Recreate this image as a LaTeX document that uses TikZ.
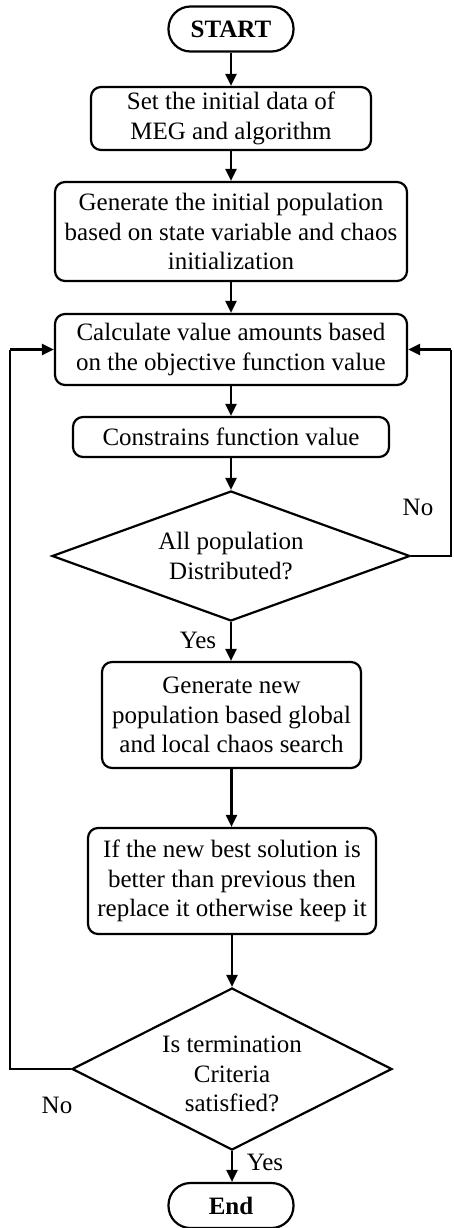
\documentclass[tikz,border=0pt]{standalone}
\usepackage{fontspec}
\setmainfont{Liberation Serif}
\usetikzlibrary{shapes.geometric,arrows.meta}
\begin{document}
\begin{tikzpicture}[x=1pt,y=-1pt,
  every node/.style={font=\fontsize{25}{29.5}\selectfont},
  proc/.style={draw,line width=2.2pt,rounded corners=10pt,align=center,inner sep=0pt},
  term/.style={draw,line width=2.2pt,rounded corners=22pt,align=center,inner sep=0pt,minimum width=125pt,minimum height=45pt,font=\fontsize{25}{29.5}\selectfont\bfseries},
  dec/.style={draw,line width=2.2pt,diamond,align=center,inner sep=0pt},
  arr/.style={line width=2.2pt,-{Triangle[length=12pt,width=11pt]}},
  lab/.style={font=\fontsize{25}{29.5}\selectfont}]
\useasboundingbox (0,0) rectangle (453,1228);
\node[term] (start) at (231,29) {START};
\node[proc,minimum width=280pt,minimum height=63pt] (b1) at (231,118.5) {Set the initial data of\\MEG and algorithm};
\node[proc,minimum width=352pt,minimum height=99pt] (b2) at (231,231.5) {Generate the initial population\\based on state variable and chaos\\initialization};
\node[proc,minimum width=352pt,minimum height=71pt] (b3) at (231,349.5) {Calculate value amounts based\\on the objective function value};
\node[proc,minimum width=316pt,minimum height=40pt] (b4) at (231,437) {Constrains function value};
\node[dec,aspect=2.754,minimum width=358pt,minimum height=130pt] (d1) at (231,556) {All population\\Distributed?};
\node[proc,minimum width=259pt,minimum height=106pt] (b5) at (231.5,715) {Generate new\\population based global\\and local chaos search};
\node[proc,minimum width=288pt,minimum height=106pt] (b6) at (232,881) {If the new best solution is\\better than previous then\\replace it otherwise keep it};
\node[dec,aspect=1.975,minimum width=320pt,minimum height=162pt] (d2) at (232,1069) {};
\node[align=center,inner sep=0pt] (d2t) at (232,1074) {Is termination\\Criteria\\satisfied?};
\node[term] (end) at (231,1205.5) {End};
\coordinate (r1) at (451,556);
\coordinate (r2) at (451,349.5);
\coordinate (l1) at (10,1069);
\coordinate (l2) at (10,349.5);
\draw[arr] (start) -- (b1);
\draw[arr] (b1) -- (b2);
\draw[arr] (b2) -- (b3);
\draw[arr] (b3) -- (b4);
\draw[arr] (b4) -- (d1);
\draw[arr] (d1) -- (d1 |- b5.north);
\draw[arr] (b5.south) -- (b5.south |- b6.north);
\draw[arr] (b6.south) -- (b6.south |- d2.north);
\draw[arr] (d2.south) -- (d2.south |- end.north);
\draw[line width=2.2pt] (d1.east) -- (r1) -- (r2);
\draw[arr] (r2) -- (b3.east);
\draw[line width=2.2pt] (d2.west) -- (l1) -- (l2);
\draw[arr] (l2) -- (b3.west);
\node[lab] (no1) at (418,507) {No};
\node[lab] (yes1) at (198,640) {Yes};
\node[lab] (no2) at (57,1105) {No};
\node[lab] (yes2) at (265,1162) {Yes};
\end{tikzpicture}
\end{document}
